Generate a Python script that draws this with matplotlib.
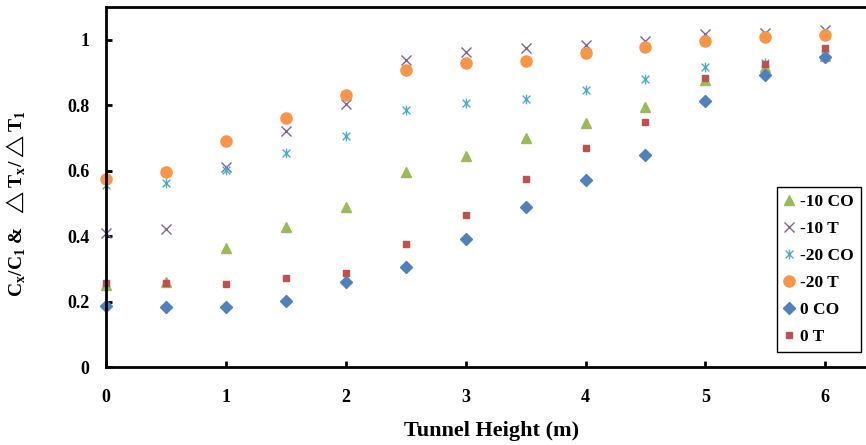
import matplotlib
matplotlib.use('Agg')
import matplotlib.pyplot as plt
from matplotlib.path import Path

plt.rcParams['font.family'] = ['Liberation Serif', 'DejaVu Sans']
plt.rcParams['mathtext.fontset'] = 'custom'
plt.rcParams['mathtext.rm'] = 'Liberation Serif:bold'
plt.rcParams['mathtext.fallback'] = 'stix'

# tunnel height (m)
height = [0, 0.5, 1, 1.5, 2, 2.5, 3, 3.5, 4, 4.5, 5, 5.5, 6]

# normalised values
m10_co = [0.25, 0.26, 0.363, 0.429, 0.49, 0.597, 0.646, 0.699, 0.747, 0.794, 0.878, 0.918, 0.949]
m10_t = [0.41, 0.422, 0.61, 0.72, 0.804, 0.939, 0.962, 0.974, 0.985, 0.995, 1.017, 1.022, 1.03]
m20_co = [0.557, 0.562, 0.603, 0.653, 0.707, 0.786, 0.808, 0.82, 0.845, 0.88, 0.917, 0.93, 0.952]
m20_t = [0.575, 0.597, 0.692, 0.76, 0.83, 0.908, 0.929, 0.934, 0.959, 0.977, 0.995, 1.007, 1.015]
z_co = [0.187, 0.183, 0.184, 0.202, 0.259, 0.307, 0.39, 0.488, 0.572, 0.648, 0.813, 0.893, 0.948]
z_t = [0.258, 0.258, 0.254, 0.273, 0.288, 0.375, 0.465, 0.574, 0.669, 0.748, 0.883, 0.925, 0.974]

# excel style asterisk: x plus a vertical bar
star = Path([(-1, -1), (1, 1), (-1, 1), (1, -1), (0, -1.25), (0, 1.25)],
            [Path.MOVETO, Path.LINETO, Path.MOVETO, Path.LINETO, Path.MOVETO, Path.LINETO])

fig = plt.figure(figsize=(8.66, 4.45), dpi=100)
ax = fig.add_axes([106 / 866, 1 - 367 / 445, 0.969, 360 / 445])

series = [
    (m10_co, '-10 CO', dict(marker='^', color='#9BBB59', ms=7.5)),
    (m10_t, '-10 T', dict(marker='x', color='#8064A2', ms=7, mew=1)),
    (m20_co, '-20 CO', dict(marker=star, color='#4BACC6', ms=7, mew=1, mfc='none')),
    (m20_t, '-20 T', dict(marker='o', color='#F79646', ms=8)),
    (z_co, '0 CO', dict(marker='D', color='#4F81BD', ms=6)),
    (z_t, '0 T', dict(marker='s', color='#C0504D', ms=5)),
]
for vals, lab, kw in series:
    ax.plot(height, vals, linestyle='none', label=lab, clip_on=False, **kw)

ax.set_xlim(0, 7)
ax.set_ylim(0, 1.1)
ax.set_xticks(range(0, 7))
ax.set_yticks([0, 0.2, 0.4, 0.6, 0.8, 1.0])
ax.set_yticklabels(['0', '0.2', '0.4', '0.6', '0.8', '1'])
ax.tick_params(direction='in', length=4, width=2, labelsize=13)
ax.tick_params(axis='x', pad=16)
ax.tick_params(axis='y', pad=12)
for t in ax.get_xticklabels() + ax.get_yticklabels():
    t.set_fontweight('bold')
for s in ax.spines.values():
    s.set_linewidth(2)

ax.set_xlabel('Tunnel Height (m)', fontsize=16, fontweight='bold')
ax.xaxis.set_label_coords(0.459, -0.15)
ax.set_ylabel(r'C$_\mathregular{x}$/C$_\mathregular{1}$ &  $\triangle$T$_\mathregular{x}$/$\triangle$T$_\mathregular{1}$',
              fontsize=14, fontweight='bold')
ax.yaxis.set_label_coords(-0.093, 0.453)

leg = ax.legend(loc='upper left', bbox_to_anchor=(777 / 866, 1 - 187 / 445),
                bbox_transform=fig.transFigure, fancybox=False, framealpha=1,
                edgecolor='black', prop={'size': 12.5, 'weight': 'bold'},
                handlelength=0.6, handletextpad=0.35, labelspacing=0.62,
                borderpad=0.4, borderaxespad=0)
leg.get_frame().set_linewidth(1)

fig.savefig('out.png', dpi=100)
